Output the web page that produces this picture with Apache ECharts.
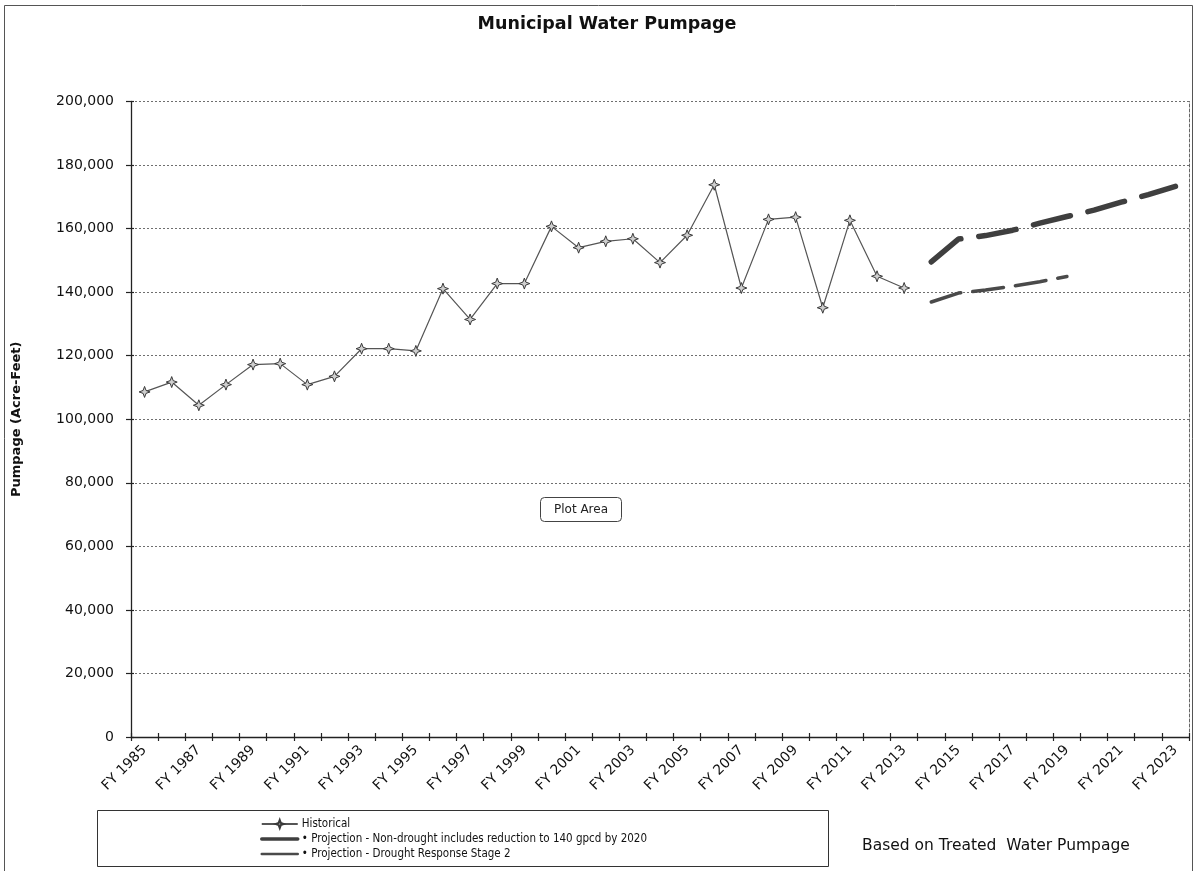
<!DOCTYPE html>
<html>
<head>
<meta charset="utf-8">
<title>Municipal Water Pumpage</title>
<script src="https://cdn.jsdelivr.net/npm/echarts@6/dist/echarts.min.js"></script>
<style>
  html, body { margin: 0; padding: 0; background: #fff; }
  #chart { width: 1196px; height: 871px; }
</style>
</head>
<body>
<div id="chart"></div>
<script>
// Fiscal years on the category axis
const years = [];
for (let y = 1985; y <= 2023; y++) years.push('FY ' + y);

// Historical pumpage, FY 1985 - FY 2013 (acre-feet)
const historical = [
  108600, 111700, 104400, 110900, 117200, 117500, 110900, 113500, 122200, 122200,
  121500, 141100, 131400, 142700, 142700, 160700, 154000, 156000, 156800, 149300,
  157900, 173800, 141300, 162900, 163600, 135100, 162600, 145000, 141300
];

// Projection, non-drought, FY 2014 - FY 2023
const nonDrought = [149500, 156700, 157800, 159500, 161700, 163800, 165800, 168300, 170700, 173300];

// Projection, drought response stage 2, FY 2014 - FY 2019
const droughtStage2 = [136900, 139700, 140700, 141900, 143300, 144900];

// y-axis scale
const yMin = 0, yMax = 200000, yStep = 20000;

const seriesNames = [
  'Historical',
  'Projection - Non-drought includes reduction to 140 gpcd by 2020',
  'Projection - Drought Response Stage 2'
];

// place a short series on the shared year axis starting at a given year
function onYears(values, firstYear) {
  const out = years.map(() => null);
  const start = years.indexOf('FY ' + firstYear);
  values.forEach((v, i) => { out[start + i] = v; });
  return out;
}

const FONT = '"DejaVu Sans", "Liberation Sans", Arial, sans-serif';
const NARROW = '"DejaVu Sans Condensed", "Liberation Sans Narrow", "Liberation Sans", sans-serif';
const starPath = 'path://M0,-6 L1.6,-1.6 L6,0 L1.6,1.6 L0,6 L-1.6,1.6 L-6,0 L-1.6,-1.6 Z';

const grid = { left: 131, right: 7, top: 101.5, bottom: 134, containLabel: false };

const chart = echarts.init(document.getElementById('chart'), null, { renderer: 'canvas' });

chart.setOption({
  backgroundColor: '#ffffff',
  animation: false,
  title: {
    text: 'Municipal Water Pumpage',
    left: 602,
    top: 10,
    textAlign: 'center',
    textStyle: { fontFamily: FONT, fontSize: 17.5, fontWeight: 'bold', color: '#111' }
  },
  grid: grid,
  legend: {
    orient: 'vertical',
    left: 255,
    top: 812,
    itemWidth: 36,
    itemHeight: 10,
    itemGap: 1,
    data: [
      { name: seriesNames[0] },
      { name: seriesNames[1], itemStyle: { opacity: 0 }, lineStyle: { width: 3.5, type: 'solid' } },
      { name: seriesNames[2], itemStyle: { opacity: 0 }, lineStyle: { width: 2.5, type: 'solid' } }
    ],
    formatter: name => (name === 'Historical' ? name : '\u2022 ' + name),
    textStyle: { fontFamily: NARROW, fontSize: 11.5, lineHeight: 14, color: '#111', padding: [0, 0, 0, -1] }
  },
  xAxis: [
    {
      type: 'category',
      data: years,
      boundaryGap: true,
      axisLine: { onZero: false, lineStyle: { color: '#222', width: 1.3 } },
      axisTick: { show: true, interval: 0, length: 4, lineStyle: { color: '#222', width: 1.2 } },
      axisLabel: {
        interval: 1, rotate: 45, margin: 11,
        fontFamily: FONT, fontSize: 14, color: '#111'
      },
      splitLine: { show: false }
    },
    {
      // inner half of the crossing tick marks
      type: 'category',
      data: years,
      position: 'bottom',
      boundaryGap: true,
      axisLine: { show: false, onZero: false },
      axisTick: { show: true, inside: true, interval: 0, length: 4, lineStyle: { color: '#222', width: 1.2 } },
      axisLabel: { show: false },
      splitLine: { show: false }
    }
  ],
  yAxis: [
    {
      type: 'value',
      min: yMin, max: yMax, interval: yStep,
      name: 'Pumpage (Acre-Feet)',
      nameLocation: 'middle',
      nameRotate: 90,
      nameGap: 108,
      nameTextStyle: { fontFamily: FONT, fontSize: 13, fontWeight: 'bold', color: '#111' },
      axisLine: { show: true, lineStyle: { color: '#222', width: 1.3 } },
      axisTick: { show: true, length: 5, lineStyle: { color: '#222', width: 1.2 } },
      axisLabel: {
        margin: 17, fontFamily: FONT, fontSize: 14, color: '#111',
        formatter: v => v.toLocaleString('en-US')
      },
      splitLine: { show: true, lineStyle: { color: '#6f6f6f', width: 1, type: [2, 2] } }
    },
    {
      // inner half of the crossing tick marks
      type: 'value',
      position: 'left',
      min: yMin, max: yMax, interval: yStep,
      axisLine: { show: false },
      axisTick: { show: true, inside: true, length: 3, lineStyle: { color: '#222', width: 1.2 } },
      axisLabel: { show: false },
      splitLine: { show: false }
    },
    {
      // plot area right edge
      type: 'value',
      position: 'right',
      min: yMin, max: yMax, interval: yStep,
      axisLine: { show: true, lineStyle: { color: '#666', width: 1, type: [3, 2] } },
      axisTick: { show: false },
      axisLabel: { show: false },
      splitLine: { show: false }
    }
  ],
  series: [
    {
      name: seriesNames[0],
      type: 'line',
      data: onYears(historical, 1985),
      symbol: starPath,
      symbolSize: 11,
      showAllSymbol: true,
      lineStyle: { color: '#555', width: 1.2 },
      itemStyle: { color: '#cfcfcf', borderColor: '#3a3a3a', borderWidth: 1 },
      z: 3
    },
    {
      name: seriesNames[1],
      type: 'line',
      data: onYears(nonDrought, 2014),
      symbol: 'none',
      lineStyle: { color: '#3f3f3f', width: 5.5, type: [38, 18], cap: 'round' },
      itemStyle: { color: '#3f3f3f' },
      z: 2
    },
    {
      name: seriesNames[2],
      type: 'line',
      data: onYears(droughtStage2, 2014),
      symbol: 'none',
      lineStyle: { color: '#4a4a4a', width: 3.5, type: [31, 12], cap: 'round' },
      itemStyle: { color: '#4a4a4a' },
      z: 2
    }
  ],
  graphic: [
    {
      // outer chart border
      type: 'rect',
      shape: { x: 4.5, y: 5.5, width: 1188, height: 900 },
      style: { fill: 'none', stroke: '#555', lineWidth: 1 },
      silent: true
    },
    {
      // legend frame
      type: 'rect',
      shape: { x: 97.5, y: 810.5, width: 731, height: 56 },
      style: { fill: 'none', stroke: '#333', lineWidth: 1 },
      silent: true
    },
    {
      type: 'group',
      left: 540,
      top: 497,
      children: [
        {
          type: 'rect',
          shape: { x: 0.5, y: 0.5, width: 81, height: 24, r: 4 },
          style: { fill: '#fff', stroke: '#444', lineWidth: 1 }
        },
        {
          type: 'text',
          x: 41, y: 13,
          style: {
            text: 'Plot Area', fontFamily: FONT, fontSize: 12, fill: '#222',
            align: 'center', verticalAlign: 'middle'
          }
        }
      ]
    },
    {
      type: 'text',
      left: 862,
      top: 838,
      style: {
        text: 'Based on Treated  Water Pumpage',
        fontFamily: FONT, fontSize: 15.5, fill: '#111'
      }
    }
  ]
});
</script>
</body>
</html>
